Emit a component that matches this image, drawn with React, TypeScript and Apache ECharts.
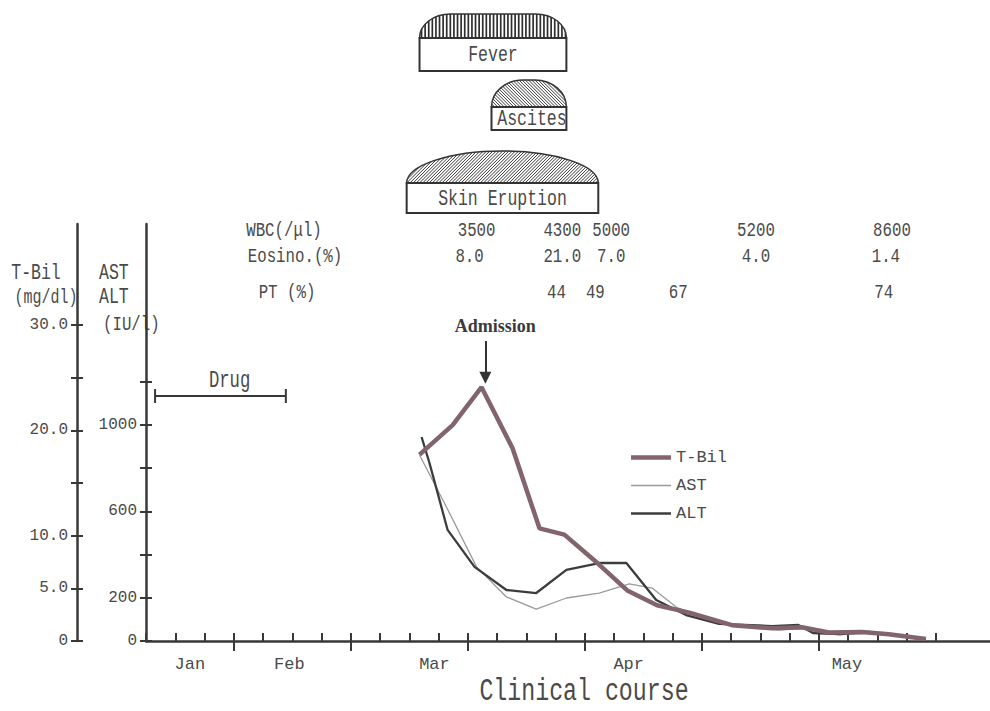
import React, { useEffect, useRef } from "react";
import * as echarts from "echarts";

const MONO = '"Liberation Mono", "DejaVu Sans Mono", monospace';
const SERIF = '"Liberation Serif", "DejaVu Serif", serif';
const TXT = "#4a4a4a";
const AX = "#383838";

// x unit = one small tick of the "Clinical course" axis
const tbilX = [9.35, 10.48, 11.47, 12.53, 13.45, 14.3, 15.43, 16.45, 17.47, 18.57, 20.03, 21.4, 22.42, 23.34, 24.47, 25.39, 26.66];
const tbilValues = [17.7, 20.5, 24.1, 18.3, 10.7, 10.1, 7.4, 4.8, 3.4, 2.7, 1.5, 1.2, 1.3, 0.8, 0.85, 0.65, 0.2];

const astX = [9.35, 10.27, 11.3, 12.32, 13.34, 14.37, 15.49, 16.52, 17.3, 18.12, 18.91, 20.27, 21.64, 22.66, 23.69, 24.71, 26.66];
const astValues = [861, 620, 343, 204, 148, 199, 222, 264, 245, 157, 111, 69, 51, 60, 28, 37, 9];

const altX = [9.42, 9.69, 10.31, 11.23, 12.32, 13.34, 14.37, 15.49, 16.42, 17.44, 18.46, 19.59, 21.4, 22.3, 22.8, 23.69, 24.71, 26.66];
const altValues = [944, 824, 514, 343, 236, 222, 329, 361, 361, 190, 120, 79, 69, 74, 37, 32, 42, 9];

const xMinorTicks = Array.from({ length: 28 }, (_, i) => i);
const xMajorTicks = [3, 7, 11, 15, 19, 23];
const monthPos = [1.5, 4.9, 9.86, 16.5, 23.96];
const monthNames = ["Jan", "Feb", "Mar", "Apr", "May"];

const enzymeTicks = [0, 200, 400, 600, 800, 1000, 1200];
const enzymeLabels = [0, 200, 600, 1000];
const bilTicks = [0, 5, 10, 15, 20, 25, 30];
const bilLabels = [0, 5, 10, 20, 30];

const symptomNames = ["Fever", "Ascites", "Skin Eruption"];
const symptomStart = [9.35, 11.81, 8.91];
const symptomEnd = [14.37, 14.37, 15.46];

const drugStart = 0.31;
const drugEnd = 4.78;
const drugLevel = 1134;

const admissionX = 11.6;

const wbcX = [11.3, 14.23, 15.9, 20.85, 25.5];
const wbcValues = ["3500", "4300", "5000", "5200", "8600"];
const eosinoX = [11.06, 14.23, 15.9, 20.85, 25.29];
const eosinoValues = ["8.0", "21.0", "7.0", "4.0", "1.4"];
const ptX = [14.03, 15.36, 18.19, 25.22];
const ptValues = ["44", "49", "67", "74"];

// layout of the symptom boxes (pixel rows) - presentation only
const SYMPTOM_LAYOUT = [
  { domeTop: 14, boxTop: 38, boxBottom: 71, corner: 0.21, hatch: "v" },
  { domeTop: 80, boxTop: 107, boxBottom: 130, corner: 0.42, hatch: "b" },
  { domeTop: 151, boxTop: 183, boxBottom: 213, corner: 0.5, hatch: "f" },
];
const LAB_ROWS_Y = [231, 257, 293];
const SX = 0.75;

function domePath(x0: number, x1: number, yb: number, yt: number, rx: number) {
  const k = 0.5523;
  const h = yb - yt;
  return `M${x0} ${yb} C${x0} ${yb - k * h} ${x0 + rx - k * rx} ${yt} ${x0 + rx} ${yt} L${x1 - rx} ${yt} C${x1 - rx + k * rx} ${yt} ${x1} ${yb - k * h} ${x1} ${yb} Z`;
}

function monoText(x: number, y: number, text: string, size: number, align = "center") {
  return {
    type: "text", x, y, scaleX: SX,
    style: { text, textAlign: align, textVerticalAlign: "middle", font: `${size}px ${MONO}`, fill: TXT },
  };
}

export default function App() {
  const ref = useRef<HTMLDivElement>(null);
  useEffect(() => {
    if (!ref.current) return;
    const chart = echarts.init(ref.current, null, { renderer: "svg" });

    const labData: number[][] = [];
    const labTexts: string[] = [];
    wbcX.forEach((x, i) => { labData.push([x, 0]); labTexts.push(wbcValues[i]); });
    eosinoX.forEach((x, i) => { labData.push([x, 1]); labTexts.push(eosinoValues[i]); });
    ptX.forEach((x, i) => { labData.push([x, 2]); labTexts.push(ptValues[i]); });

    const axisLineStyle = { color: AX, width: 2.5 };
    const hiddenLine = { color: AX, width: 1, opacity: 0 };
    const tickStyle = { color: AX, width: 2 };
    const labelStyle = { color: TXT, fontFamily: MONO, fontSize: 16 };

    const option: any = {
      animation: false,
      backgroundColor: "#ffffff",
      grid: { left: 146, right: 0, top: 224, bottom: 70, containLabel: false },
      legend: {
        data: [
          { name: "T-Bil", icon: "path://M0 0H40V4.5H0Z" },
          { name: "AST", icon: "path://M0 0H40V1.3H0Z" },
          { name: "ALT", icon: "path://M0 0H40V2.3H0Z" },
        ],
        orient: "vertical",
        left: 626,
        top: 444,
        itemWidth: 40,
        itemHeight: 14,
        itemGap: 11,
        itemStyle: { borderWidth: 0 },
        textStyle: { color: TXT, fontFamily: MONO, fontSize: 17 },
      },
      xAxis: [
        {
          type: "value", min: 0, max: 28.85, position: "bottom",
          axisLine: { show: true, onZero: false, lineStyle: axisLineStyle },
          axisTick: { show: true, inside: true, length: 8, customValues: xMinorTicks, lineStyle: tickStyle },
          axisLabel: { show: false },
          splitLine: { show: false },
        },
        {
          type: "value", min: 0, max: 28.85, position: "bottom",
          axisLine: { show: false, onZero: false },
          axisTick: { show: true, inside: false, length: 10, customValues: xMajorTicks, lineStyle: tickStyle },
          axisLabel: {
            show: true, customValues: monthPos, margin: 15, ...labelStyle, fontSize: 17,
            formatter: (v: number) => {
              const i = monthPos.findIndex((p) => Math.abs(p - v) < 1e-6);
              return i >= 0 ? monthNames[i] : "";
            },
          },
          splitLine: { show: false },
        },
      ],
      yAxis: [
        {
          type: "value", min: 0, max: 1930, position: "left", offset: 0,
          axisLine: { show: true, onZero: false, lineStyle: axisLineStyle },
          axisTick: { show: true, inside: false, length: 6, customValues: enzymeTicks, lineStyle: tickStyle },
          axisLabel: { show: true, customValues: enzymeLabels, margin: 9, ...labelStyle, formatter: (v: number) => String(v) },
          splitLine: { show: false },
        },
        {
          type: "value", min: 0, max: 39.6, position: "left", offset: 69,
          axisLine: { show: true, onZero: false, lineStyle: axisLineStyle },
          axisTick: { show: true, inside: false, length: 6, customValues: bilTicks, lineStyle: tickStyle },
          axisLabel: {
            show: true, customValues: bilLabels, margin: 9, ...labelStyle,
            formatter: (v: number) => (v === 0 ? "0" : v.toFixed(1)),
          },
          splitLine: { show: false },
        },
        {
          type: "value", min: 0, max: 1930, position: "left", offset: 0,
          axisLine: { show: true, onZero: false, lineStyle: hiddenLine },
          axisTick: { show: true, inside: true, length: 6, customValues: enzymeTicks, lineStyle: tickStyle },
          axisLabel: { show: false },
          splitLine: { show: false },
        },
        {
          type: "value", min: 0, max: 39.6, position: "left", offset: 69,
          axisLine: { show: true, onZero: false, lineStyle: hiddenLine },
          axisTick: { show: true, inside: true, length: 6, customValues: bilTicks, lineStyle: tickStyle },
          axisLabel: { show: false },
          splitLine: { show: false },
        },
      ],
      graphic: [
        monoText(36, 273, "T-Bil", 22),
        monoText(46, 297, "(mg/dl)", 20),
        monoText(99, 273, "AST", 22, "left"),
        monoText(99, 297, "ALT", 22, "left"),
        monoText(103, 325, "(IU/l)", 21, "left"),
        monoText(284, LAB_ROWS_Y[0], "WBC(/μl)", 21),
        monoText(295, LAB_ROWS_Y[1], "Eosino.(%)", 21),
        monoText(287, LAB_ROWS_Y[2], "PT (%)", 21),
        monoText(584, 692, "Clinical course", 31),
      ],
      series: [
        {
          name: "T-Bil", type: "line", xAxisIndex: 0, yAxisIndex: 1, symbol: "none",
          data: tbilX.map((x, i) => [x, tbilValues[i]]),
          lineStyle: { color: "#82656c", width: 4.5 },
          itemStyle: { color: "#82656c" },
          z: 3,
          markLine: {
            silent: true,
            symbol: ["none", "triangle"],
            symbolSize: 12,
            lineStyle: { color: "#333", width: 2, type: "solid" },
            label: {
              show: true, position: "start", formatter: "Admission", distance: 6,
              padding: [0, 0, 0, 20],
              color: "#3a3a3a", fontFamily: SERIF, fontWeight: "bold", fontSize: 18,
            },
            data: [[{ coord: [admissionX, 28.5] }, { coord: [admissionX, 25.0] }]],
          },
        },
        {
          name: "AST", type: "line", xAxisIndex: 0, yAxisIndex: 0, symbol: "none",
          data: astX.map((x, i) => [x, astValues[i]]),
          lineStyle: { color: "#9a9a9a", width: 1.3 },
          itemStyle: { color: "#9a9a9a" },
          z: 2,
        },
        {
          name: "ALT", type: "line", xAxisIndex: 0, yAxisIndex: 0, symbol: "none",
          data: altX.map((x, i) => [x, altValues[i]]),
          lineStyle: { color: "#3c3c3c", width: 2.3 },
          itemStyle: { color: "#3c3c3c" },
          z: 2,
        },
        {
          name: "Drug", type: "custom", xAxisIndex: 0, yAxisIndex: 0, clip: false, silent: true,
          data: [[drugStart, drugEnd, drugLevel]],
          encode: { x: [0, 1], y: 2 },
          renderItem: (params: any, api: any) => {
            const p0 = api.coord([api.value(0), api.value(2)]);
            const p1 = api.coord([api.value(1), api.value(2)]);
            const s = { stroke: AX, lineWidth: 2 };
            return {
              type: "group",
              children: [
                { type: "line", shape: { x1: p0[0], y1: p0[1], x2: p1[0], y2: p1[1] }, style: s },
                { type: "line", shape: { x1: p0[0], y1: p0[1] - 7, x2: p0[0], y2: p0[1] + 7 }, style: s },
                { type: "line", shape: { x1: p1[0], y1: p1[1] - 7, x2: p1[0], y2: p1[1] + 7 }, style: s },
                monoText(p0[0] + (p1[0] - p0[0]) * 0.57, p0[1] - 15, "Drug", 23),
              ],
            };
          },
        },
        {
          name: "Symptoms", type: "custom", xAxisIndex: 0, yAxisIndex: 0, clip: false, silent: true,
          data: symptomStart.map((s, i) => [s, symptomEnd[i], 0]),
          encode: { x: [0, 1], y: 2 },
          renderItem: (params: any, api: any) => {
            const i = params.dataIndex;
            const L = SYMPTOM_LAYOUT[i];
            const x0 = api.coord([api.value(0), 0])[0];
            const x1 = api.coord([api.value(1), 0])[0];
            const w = x1 - x0;
            const d = domePath(x0, x1, L.boxTop, L.domeTop, w * L.corner);
            const lines: any[] = [];
            const h = L.boxTop - L.domeTop;
            if (L.hatch === "v") {
              for (let x = x0 + 2; x < x1; x += 3.6) {
                lines.push({ type: "line", shape: { x1: x, y1: L.boxTop, x2: x, y2: L.domeTop }, style: { stroke: "#2e2e2e", lineWidth: 1.7 } });
              }
            } else {
              for (let t = x0 - h; t < x1 + h; t += 3.2) {
                const shape = L.hatch === "f"
                  ? { x1: t, y1: L.boxTop, x2: t + h, y2: L.domeTop }
                  : { x1: t, y1: L.domeTop, x2: t + h, y2: L.boxTop };
                lines.push({ type: "line", shape, style: { stroke: "#3a3a3a", lineWidth: 1 } });
              }
            }
            return {
              type: "group",
              children: [
                { type: "path", shape: { pathData: d }, style: { fill: "#fff", stroke: "none" } },
                { type: "group", children: lines, clipPath: { type: "path", shape: { pathData: d } } },
                { type: "path", shape: { pathData: d }, style: { fill: "none", stroke: "#333", lineWidth: 1.5 } },
                {
                  type: "rect", shape: { x: x0, y: L.boxTop, width: w, height: L.boxBottom - L.boxTop },
                  style: { fill: "#fff", stroke: "#333", lineWidth: 2 },
                },
                monoText(x0 + w / 2 + (i === 1 ? 3 : 0), (L.boxTop + L.boxBottom) / 2 + 1, symptomNames[i], 22),
              ],
            };
          },
        },
        {
          name: "Labs", type: "custom", xAxisIndex: 0, yAxisIndex: 0, clip: false, silent: true,
          data: labData,
          encode: { x: 0 },
          renderItem: (params: any, api: any) => {
            const x = api.coord([api.value(0), 0])[0];
            const row = api.value(1);
            return monoText(x, LAB_ROWS_Y[row], labTexts[params.dataIndex], 21);
          },
        },
      ],
    };
    chart.setOption(option);
    return () => chart.dispose();
  }, []);
  return <div ref={ref} style={{ position: "fixed", left: 0, top: 0, width: 990, height: 711, background: "#fff" }} />;
}
